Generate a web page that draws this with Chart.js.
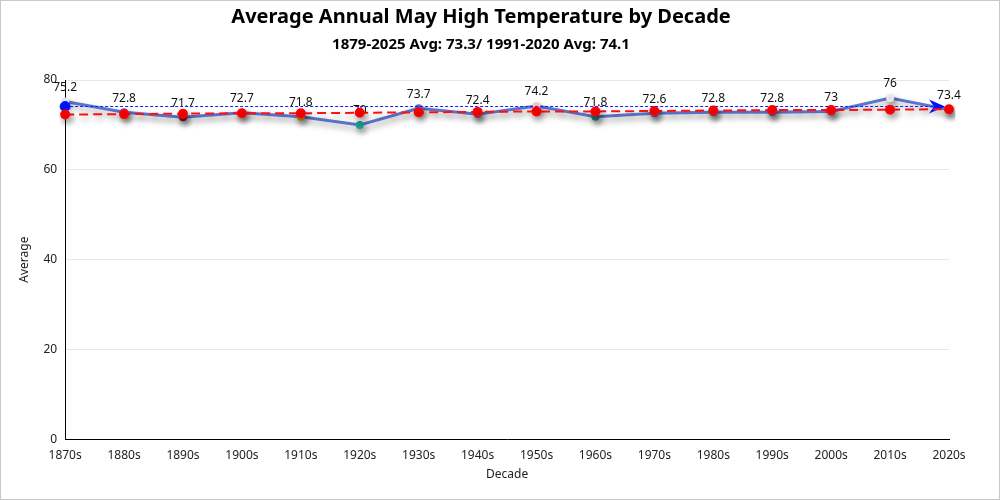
<!DOCTYPE html>
<html>
<head>
<meta charset="utf-8">
<script src="https://cdn.jsdelivr.net/npm/chart.js@4.4.1/dist/chart.umd.min.js"></script>
<style>
    body { margin: 0; background: #fff; }
    #wrap { width: 1000px; height: 500px; box-sizing: border-box; border: 1px solid #c8c8c8; }
</style>
</head>
<body>
<div id="wrap"><canvas id="chart" width="998" height="498"></canvas></div>
<script>
    const decades = ['1870s', '1880s', '1890s', '1900s', '1910s', '1920s', '1930s', '1940s',
        '1950s', '1960s', '1970s', '1980s', '1990s', '2000s', '2010s', '2020s'];
    const avgHigh = [75.2, 72.8, 71.7, 72.7, 71.8, 70, 73.7, 72.4, 74.2, 71.8, 72.6, 72.8, 72.8, 73, 76, 73.4];
    const trend = [72.3, 72.4, 72.5, 72.6, 72.6, 72.7, 72.8, 72.9, 73.0, 73.0, 73.1, 73.2, 73.3, 73.3, 73.4, 73.5];
    const normal = [74.1, 74.1, 74.1, 74.1, 74.1, 74.1, 74.1, 74.1, 74.1, 74.1, 74.1, 74.1, 74.1, 74.1, 74.1, 74.1];
    const pointColors = ['#dfe6ff', '#5470c6', '#8b1a1a', '#5470c6', '#d98a1a', '#1f9e8f', '#5470c6', '#5470c6',
        '#f0c8d0', '#1f7a6f', '#5470c6', '#5470c6', '#5470c6', '#5470c6', '#e6e6ee', '#5470c6'];
    const yTicks = [0, 20, 40, 60, 80];

    const fontFamily = '"Noto Sans", "Open Sans", sans-serif';
    Chart.defaults.font.family = fontFamily;
    Chart.defaults.color = '#222';

    // drop shadow on the lines
    const shadowPlugin = {
        id: 'shadow',
        beforeDatasetDraw(chart, args) {
            if (args.index === 2) return;
            const ctx = chart.ctx;
            ctx.save();
            ctx.shadowColor = 'rgba(0,0,0,0.35)';
            ctx.shadowBlur = 6;
            ctx.shadowOffsetX = 2;
            ctx.shadowOffsetY = 4;
        },
        afterDatasetDraw(chart, args) {
            if (args.index === 2) return;
            chart.ctx.restore();
        }
    };

    // value labels above the main series, arrow head at the end of the normal line
    const labelPlugin = {
        id: 'valueLabels',
        afterDatasetDraw(chart, args) {
            const ctx = chart.ctx;
            if (args.index === 2) {
                const last = args.meta.data[args.meta.data.length - 1];
                const tipX = last.x - 4, y = last.y;
                ctx.save();
                ctx.fillStyle = '#0010ff';
                ctx.beginPath();
                ctx.moveTo(tipX, y);
                ctx.lineTo(tipX - 16, y - 7);
                ctx.lineTo(tipX - 11, y);
                ctx.lineTo(tipX - 16, y + 7);
                ctx.closePath();
                ctx.fill();
                ctx.restore();
                return;
            }
            if (args.index !== 0) return;
            ctx.save();
            ctx.font = '12px ' + fontFamily;
            ctx.fillStyle = '#111';
            ctx.textAlign = 'center';
            ctx.textBaseline = 'middle';
            args.meta.data.forEach((pt, i) => {
                ctx.fillText(String(avgHigh[i]), pt.x, pt.y - 14);
            });
            ctx.restore();
        }
    };

    new Chart(document.getElementById('chart'), {
        type: 'line',
        data: {
            labels: decades,
            datasets: [{
                label: 'Average',
                data: avgHigh,
                borderColor: '#5b74cc',
                borderWidth: 3,
                pointRadius: 2.5,
                pointBackgroundColor: pointColors,
                pointBorderColor: pointColors,
                tension: 0,
                order: 3
            }, {
                label: 'Trend',
                data: trend,
                borderColor: '#ff1010',
                borderWidth: 2,
                borderDash: [9, 5],
                pointRadius: 4,
                pointBackgroundColor: '#ff0000',
                pointBorderColor: '#ff0000',
                order: 1
            }, {
                label: '1991-2020',
                data: normal,
                borderColor: '#1020ff',
                borderWidth: 1,
                borderDash: [3, 2],
                pointRadius: normal.map((v, i) => i === 0 ? 5 : 0),
                pointBackgroundColor: '#0010ff',
                pointBorderColor: '#0010ff',
                order: 2
            }]
        },
        options: {
            responsive: false,
            animation: false,
            layout: { padding: { left: 12, right: 50, top: 0, bottom: 13 } },
            plugins: {
                legend: { display: false },
                tooltip: { enabled: false },
                title: {
                    display: true,
                    text: 'Average Annual May High Temperature by Decade',
                    font: { size: 20, weight: 'bold' },
                    color: '#000',
                    padding: { top: 4, bottom: 5 }
                },
                subtitle: {
                    display: true,
                    text: '1879-2025 Avg: 73.3/ 1991-2020 Avg: 74.1',
                    font: { size: 15, weight: 'bold' },
                    color: '#000',
                    padding: { top: 2, bottom: 26 }
                }
            },
            scales: {
                x: {
                    offset: false,
                    grid: { display: false, drawTicks: true },
                    border: { color: '#000', width: 1 },
                    ticks: { color: '#222', font: { size: 12 }, maxRotation: 0, autoSkip: false, padding: 1 },
                    title: { display: true, text: 'Decade', color: '#222', font: { size: 12 } }
                },
                y: {
                    min: 0,
                    max: 80,
                    afterBuildTicks(axis) { axis.ticks = yTicks.map(v => ({ value: v })); },
                    grid: { color: '#e6e6e6', drawTicks: false },
                    border: { color: '#000', width: 1 },
                    ticks: { color: '#222', font: { size: 12 }, padding: 8 },
                    title: { display: true, text: 'Average', color: '#222', font: { size: 12 } }
                }
            }
        },
        plugins: [shadowPlugin, labelPlugin]
    });
</script>
</body>
</html>
